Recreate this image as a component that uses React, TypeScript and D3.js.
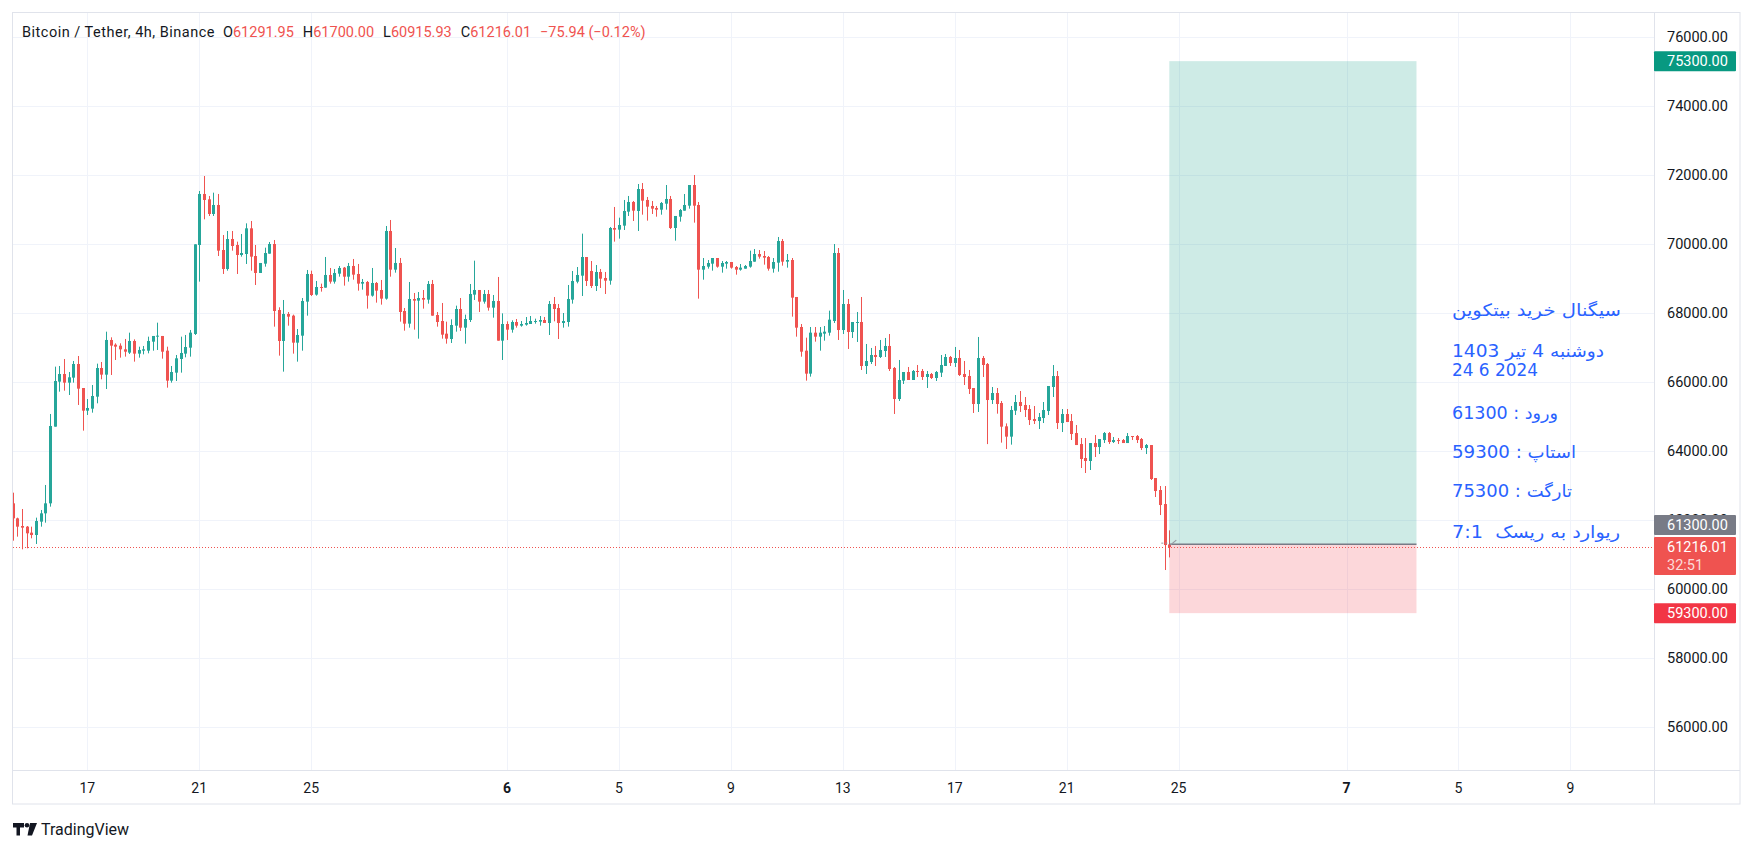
import React, { useEffect, useRef } from 'react';
import * as d3 from 'd3';

// 4h candles, first one opens 2024-05-14 08:00 UTC
const startTime = '2024-05-14T08:00:00Z';
const stepHours = 4;

const opens = [
  62483, 62048, 61826, 61807, 61633, 61565, 61952, 62193, 62483, 64706,
  66010, 66232, 65981, 66126, 66522, 65826, 65169, 65227, 65575, 66406,
  66213, 67218, 67082, 67053, 66947, 66851, 67189, 66822, 66908, 66908,
  67169, 67314, 67334, 66908, 66039, 66271, 66667, 66822, 66995, 67392,
  69971, 71450, 71295, 70870, 71131, 69826, 69276, 70145, 69971, 69681,
  69710, 70454, 69652, 69160, 69430, 69720, 70000, 68087, 67189, 67971,
  67923, 67140, 67343, 68329, 69131, 68532, 68754, 68735, 69102, 68909,
  69140, 69314, 69053, 69363, 69131, 68851, 68899, 68503, 68870, 68667,
  68416, 70377, 69256, 69450, 68058, 67691, 68406, 68358, 68435, 68387,
  68841, 67942, 67768, 67401, 67246, 67633, 68116, 67575, 67797, 68532,
  68667, 68329, 68551, 68155, 68348, 67198, 67681, 67517, 67739, 67633,
  67662, 67681, 67749, 67749, 67797, 67710, 68261, 68145, 67710, 67739,
  68387, 68908, 69082, 69623, 69218, 68783, 69189, 69015, 68937, 70464,
  70416, 70532, 70937, 71218, 70957, 71594, 71276, 71102, 71044, 70995,
  71169, 71305, 70464, 70792, 70966, 71111, 71710, 71131, 69256, 69343,
  69430, 69594, 69343, 69430, 69478, 69333, 69256, 69285, 69343, 69488,
  69710, 69652, 69623, 69285, 69459, 70087, 69488, 69536, 68464, 67594,
  66908, 66242, 67430, 67314, 67401, 67430, 67768, 69739, 67507, 68261,
  67449, 67710, 67739, 66464, 66580, 66783, 66725, 66899, 67044, 66406,
  65507, 66039, 66290, 66058, 66319, 66319, 66145, 66232, 66116, 66271,
  66464, 66725, 66551, 66696, 66232, 66174, 65826, 65362, 66696, 66522,
  65478, 65681, 65391, 64715, 64416, 65169, 65420, 65333, 65217, 64927,
  64869, 64956, 65159, 65855, 66173, 64811, 65072, 64869, 64521, 64202,
  63797, 63710, 64231, 64115, 64318, 64521, 64260, 64318, 64318, 64231,
  64434, 64434, 64347, 64086, 64173, 63217, 62869, 62463, 61291.95,
];

const highs = [
  62792, 62068, 62319, 61826, 61807, 62068, 62290, 63015, 65073, 66445,
  66464, 66667, 66290, 66609, 66754, 65826, 65507, 65913, 66532, 66580,
  67459, 67295, 67121, 67121, 67247, 67430, 67237, 67024, 67044, 67314,
  67334, 67720, 67334, 67024, 66464, 66783, 67314, 67363, 67508, 69991,
  71537, 71971, 71392, 71488, 71450, 70261, 70377, 70377, 70068, 70290,
  70599, 70667, 69971, 69450, 69894, 70058, 70116, 68165, 68377, 68029,
  67952, 67536, 68435, 69247, 69227, 68928, 68851, 69624, 69305, 69276,
  69363, 69334, 69450, 69566, 69421, 68986, 68928, 69305, 68899, 68957,
  70522, 70696, 69884, 69595, 68145, 68899, 68580, 68609, 68667, 68928,
  68957, 68029, 68290, 67749, 67817, 68213, 68435, 67952, 68841, 69517,
  68667, 68667, 68667, 68522, 69044, 67990, 67759, 67788, 67826, 67768,
  67884, 67913, 67836, 67913, 67884, 68348, 68464, 68261, 68000, 68812,
  69218, 69333, 70300, 69623, 69507, 69391, 69276, 69189, 70493, 71073,
  70763, 71276, 71392, 71247, 71739, 71768, 71363, 71247, 71102, 71218,
  71710, 71392, 70812, 71015, 71449, 71710, 72000, 71218, 69594, 69536,
  69594, 69594, 69507, 69507, 69478, 69362, 69420, 69391, 69807, 69855,
  69826, 69797, 69652, 69594, 70203, 70145, 69710, 69594, 68464, 67681,
  67285, 67594, 67594, 67594, 67623, 68068, 70000, 69884, 68667, 68406,
  67739, 68029, 68464, 67102, 66986, 67044, 67218, 67276, 67391, 66435,
  66638, 66290, 66435, 66348, 66493, 66377, 66319, 66261, 66319, 66783,
  66812, 66754, 67015, 66928, 66609, 66348, 65826, 67305, 66754, 66551,
  65855, 65826, 65449, 64800, 65305, 65623, 65739, 65565, 65333, 65304,
  65101, 65420, 65884, 66492, 66318, 65217, 65217, 65072, 64753, 64376,
  64376, 64231, 64463, 64347, 64550, 64550, 64405, 64376, 64347, 64521,
  64434, 64463, 64376, 64202, 64173, 63217, 62985, 62985, 61700,
];

const lows = [
  61401, 61517, 61150, 61179, 61469, 61305, 61807, 61923, 62387, 64706,
  65720, 65749, 65623, 65981, 65334, 64590, 65044, 65111, 65382, 66078,
  65797, 66203, 66638, 66706, 66735, 66812, 66590, 66706, 66802, 66831,
  66908, 66928, 66677, 65836, 65981, 66029, 66271, 66715, 66735, 67363,
  68909, 70715, 70812, 70812, 69652, 69131, 69227, 69807, 69131, 69633,
  69421, 69227, 68812, 69160, 69343, 69720, 67604, 66764, 66300, 67633,
  66822, 66590, 66908, 67923, 68493, 68503, 68619, 68735, 68851, 68851,
  69053, 68793, 68909, 68966, 68648, 68677, 68126, 68474, 68300, 68242,
  68387, 69053, 69169, 67749, 67488, 67575, 67517, 67256, 68126, 68271,
  67923, 67604, 67256, 67111, 67131, 67459, 67478, 67111, 67739, 68377,
  68029, 68271, 68068, 67865, 67198, 66638, 67218, 67430, 67575, 67604,
  67633, 67681, 67691, 67633, 67710, 67362, 67759, 67246, 67575, 67604,
  68271, 68860, 68493, 68783, 68725, 68638, 68725, 68551, 68821, 70068,
  70155, 70406, 70812, 70667, 70377, 70850, 70677, 70870, 70792, 70850,
  70995, 70435, 70097, 70648, 70966, 71024, 70619, 68416, 68966, 69285,
  69227, 69314, 69169, 69285, 69285, 69111, 69227, 69285, 69314, 69488,
  69575, 69401, 69227, 69169, 69198, 69372, 69314, 67894, 67314, 66734,
  66039, 66155, 67169, 66908, 67198, 67343, 67710, 67218, 67391, 66957,
  67276, 67160, 66348, 66232, 66522, 66464, 66696, 66725, 66319, 65073,
  65449, 65942, 66058, 66058, 66145, 66058, 65826, 66087, 66029, 66145,
  66464, 66464, 66435, 66174, 65913, 65652, 65102, 65131, 66145, 64200,
  65362, 65082, 64242, 64058, 64184, 65044, 65130, 64985, 64753, 64782,
  64637, 64811, 65043, 65565, 64637, 64550, 64840, 64318, 64173, 63507,
  63362, 63449, 63826, 63912, 64231, 64202, 64231, 64202, 64231, 64231,
  64318, 64231, 64028, 63912, 63159, 62666, 62144, 60550, 60915.93,
];

const closes = [
  62048, 61807, 61778, 61614, 61565, 61971, 62193, 62483, 64725, 66029,
  66232, 65981, 66136, 66522, 65807, 65169, 65247, 65594, 66406, 66213,
  67218, 67053, 67024, 66947, 66879, 67189, 66822, 66928, 66947, 67189,
  67334, 67343, 66879, 66039, 66290, 66686, 66841, 67015, 67430, 69991,
  71450, 71276, 70870, 71131, 69807, 69276, 70145, 69942, 69681, 69739,
  70454, 69633, 69160, 69450, 69739, 70000, 68058, 67189, 67971, 67894,
  67140, 67363, 68348, 69131, 68522, 68754, 68735, 69102, 68909, 69160,
  69305, 69053, 69363, 69111, 68851, 68899, 68503, 68870, 68648, 68416,
  70377, 69256, 69450, 68029, 67691, 68406, 68358, 68435, 68387, 68841,
  67923, 67739, 67372, 67256, 67652, 68116, 67575, 67826, 68551, 68667,
  68329, 68551, 68155, 68348, 67198, 67681, 67517, 67739, 67633, 67681,
  67710, 67768, 67768, 67797, 67710, 68261, 68116, 67710, 67768, 68406,
  68928, 69102, 69623, 68928, 68783, 69189, 68995, 68937, 70464, 70416,
  70551, 70957, 71218, 70966, 71594, 71256, 71082, 71024, 70995, 71189,
  71305, 70464, 70812, 70986, 71131, 71710, 71111, 69256, 69362, 69449,
  69594, 69343, 69449, 69478, 69314, 69256, 69314, 69362, 69507, 69710,
  69633, 69604, 69285, 69478, 70087, 69488, 69536, 68445, 67575, 66879,
  66242, 67430, 67314, 67430, 67459, 67807, 69739, 67507, 68261, 67449,
  67739, 67739, 66464, 66609, 66783, 66725, 66928, 67044, 66377, 65507,
  66058, 66290, 66058, 66319, 66290, 66145, 66232, 66116, 66290, 66493,
  66725, 66551, 66696, 66203, 66145, 65797, 65362, 66696, 66493, 65478,
  65681, 65362, 64705, 64416, 65189, 65420, 65304, 65188, 64898, 64869,
  64985, 65188, 65884, 66173, 64811, 65072, 64840, 64492, 64173, 63768,
  63710, 64231, 64115, 64347, 64521, 64260, 64318, 64289, 64231, 64434,
  64405, 64318, 64086, 64173, 63188, 62840, 62434, 61275, 61216.01,
];

const priceTicks = [56000, 58000, 60000, 62000, 64000, 66000, 68000, 70000, 72000, 74000, 76000];
const timeTicks = [
  '2024-05-17', '2024-05-21', '2024-05-25', '2024-06-01', '2024-06-05', '2024-06-09', '2024-06-13',
  '2024-06-17', '2024-06-21', '2024-06-25', '2024-07-01', '2024-07-05', '2024-07-09',
];
const timeTickLabels = ['17', '21', '25', '6', '5', '9', '13', '17', '21', '25', '7', '5', '9'];

// long position drawing
const entryPrice = 61300;
const stopPrice = 59300;
const targetPrice = 75300;
const positionEnd = '2024-07-03T12:00:00Z';
const lastPrice = 61216.01;
const countdown = '32:51';

const legendTitle = 'Bitcoin / Tether, 4h, Binance';
const legendKeys = ['O', 'H', 'L', 'C'];
const legendValues = ['61291.95', '61700.00', '60915.93', '61216.01'];
const legendChange = '−75.94 (−0.12%)';

const noteLines = [
  { text: 'سیگنال خرید بیتکوین', rtl: true, width: 169 },
  { text: 'دوشنبه 4 تیر 1403', rtl: true, width: 152 },
  { text: '24 6 2024', rtl: false, width: 86 },
  { text: 'ورود : 61300', rtl: true, width: 106 },
  { text: 'استاپ : 59300', rtl: true, width: 124 },
  { text: 'تارگت : 75300', rtl: true, width: 120 },
  { text: 'ریوارد به ریسک  7:1', rtl: true, width: 168 },
];
const noteY = [310, 351, 370, 413, 452, 491, 532];

const UP = '#26a69a';
const DOWN = '#ef5350';
const TEXT = '#131722';
const FONT = 'Roboto, "Noto Sans", sans-serif';

export default function App() {
  const ref = useRef<SVGSVGElement>(null);

  useEffect(() => {
    const svg = d3.select(ref.current);
    svg.selectAll('*').remove();

    const left = 13, top = 13, right = 1654, bottom = 770, frameRight = 1740, frameBottom = 804;

    const t0 = new Date(startTime).getTime();
    const step = stepHours * 3600 * 1000;
    const data = opens.map((o, i) => ({
      t: new Date(t0 + i * step), o, h: highs[i], l: lows[i], c: closes[i],
    }));

    const x = d3.scaleUtc()
      .domain([data[0].t, data[data.length - 1].t])
      .range([12.7, 1169.3]);
    const y = d3.scaleLinear().domain([56000, 76000]).range([727, 37]);
    const tx = (d: string) => x(new Date(d + 'T00:00:00Z'));

    svg.append('rect').attr('width', 1754).attr('height', 850).attr('fill', '#ffffff');

    svg.append('clipPath').attr('id', 'plot-clip')
      .append('rect').attr('x', left).attr('y', top).attr('width', right - left).attr('height', bottom - top);

    // grid
    const grid = svg.append('g').attr('stroke', '#f0f3fa').attr('stroke-width', 1);
    grid.selectAll('line.h').data(priceTicks).join('line')
      .attr('x1', left).attr('x2', right)
      .attr('y1', d => Math.round(y(d)) + 0.5).attr('y2', d => Math.round(y(d)) + 0.5);
    grid.selectAll('line.v').data(timeTicks).join('line')
      .attr('y1', top).attr('y2', bottom)
      .attr('x1', d => Math.round(tx(d)) + 0.5)
      .attr('x2', d => Math.round(tx(d)) + 0.5);

    const plot = svg.append('g').attr('clip-path', 'url(#plot-clip)');

    // candles
    const candles = plot.append('g');
    candles.selectAll('line').data(data).join('line')
      .attr('x1', d => Math.round(x(d.t)) + 0.5).attr('x2', d => Math.round(x(d.t)) + 0.5)
      .attr('y1', d => y(d.h)).attr('y2', d => y(d.l))
      .attr('stroke', d => (d.c >= d.o ? UP : DOWN)).attr('stroke-width', 1);
    candles.selectAll('rect').data(data).join('rect')
      .attr('x', d => Math.round(x(d.t)) - 1).attr('width', 3)
      .attr('y', d => y(Math.max(d.o, d.c)))
      .attr('height', d => Math.max(1, Math.abs(y(d.o) - y(d.c))))
      .attr('fill', d => (d.c >= d.o ? UP : DOWN));

    // position box
    const bx0 = x(data[data.length - 1].t);
    const bx1 = x(new Date(positionEnd));
    plot.append('rect').attr('x', bx0).attr('width', bx1 - bx0)
      .attr('y', y(targetPrice)).attr('height', y(entryPrice) - y(targetPrice))
      .attr('fill', 'rgb(8,153,129)').attr('fill-opacity', 0.2);
    plot.append('rect').attr('x', bx0).attr('width', bx1 - bx0)
      .attr('y', y(entryPrice)).attr('height', y(stopPrice) - y(entryPrice))
      .attr('fill', 'rgb(242,54,69)').attr('fill-opacity', 0.2);
    plot.append('line').attr('x1', bx0).attr('x2', bx1)
      .attr('y1', y(entryPrice)).attr('y2', y(entryPrice))
      .attr('stroke', '#787b86').attr('stroke-width', 1.5);
    plot.append('line').attr('x1', bx0 - 8).attr('x2', bx0 - 1)
      .attr('y1', y(entryPrice) - 1).attr('y2', y(entryPrice) - 1)
      .attr('stroke', '#9598a1').attr('stroke-dasharray', '2 2');
    plot.append('line').attr('x1', bx0 + 1).attr('x2', bx0 + 7)
      .attr('y1', y(entryPrice) + 1).attr('y2', y(entryPrice) - 4)
      .attr('stroke', '#9598a1').attr('stroke-width', 1.2);

    // last price dotted line
    plot.append('line').attr('x1', left).attr('x2', right)
      .attr('y1', Math.round(y(lastPrice)) + 0.5).attr('y2', Math.round(y(lastPrice)) + 0.5)
      .attr('stroke', DOWN).attr('stroke-dasharray', '1 2');

    // note text
    const note = svg.append('g').attr('font-family', '"DejaVu Sans", sans-serif')
      .attr('font-size', 17).attr('fill', '#2962ff');
    note.selectAll('text').data(noteLines).join('text')
      .attr('x', 1452).attr('y', (_, i) => noteY[i])
      .attr('dominant-baseline', 'central')
      .attr('direction', d => (d.rtl ? 'rtl' : 'ltr'))
      .attr('text-anchor', d => (d.rtl ? 'end' : 'start'))
      .attr('textLength', d => d.width)
      .attr('lengthAdjust', 'spacingAndGlyphs')
      .style('white-space', 'pre')
      .text(d => d.text);

    // frame
    svg.append('rect').attr('x', 12.5).attr('y', 12.5)
      .attr('width', frameRight - 12.5).attr('height', frameBottom - 12.5)
      .attr('fill', 'none').attr('stroke', '#e0e3eb');
    svg.append('line').attr('x1', right + 0.5).attr('x2', right + 0.5).attr('y1', 13).attr('y2', frameBottom)
      .attr('stroke', '#e0e3eb');
    svg.append('line').attr('x1', 13).attr('x2', frameRight).attr('y1', bottom + 0.5).attr('y2', bottom + 0.5)
      .attr('stroke', '#e0e3eb');

    // price axis labels
    const axis = svg.append('g').attr('font-family', FONT).attr('font-size', 14.5).attr('fill', TEXT);
    axis.selectAll('text').data(priceTicks).join('text')
      .attr('x', 1667).attr('y', d => y(d)).attr('dominant-baseline', 'central')
      .text(d => d3.format('.2f')(d));

    // time axis labels (month starts in bold)
    svg.append('g').attr('font-family', FONT).attr('font-size', 14).attr('fill', TEXT)
      .selectAll('text').data(timeTicks).join('text')
      .attr('x', d => tx(d)).attr('y', 788)
      .attr('text-anchor', 'middle').attr('dominant-baseline', 'central')
      .attr('font-weight', d => (d.endsWith('-01') ? 700 : 400))
      .text((_, i) => timeTickLabels[i]);

    // price tags
    const tags = [
      { label: d3.format('.2f')(targetPrice), cy: y(targetPrice), fill: '#089981' },
      { label: d3.format('.2f')(entryPrice), cy: y(lastPrice) - 22, fill: '#787b86' },
      { label: d3.format('.2f')(stopPrice), cy: y(stopPrice), fill: '#f23645' },
    ];
    const tagG = svg.append('g').attr('font-family', FONT).attr('font-size', 14.5);
    tags.forEach(t => {
      tagG.append('rect').attr('x', right).attr('y', t.cy - 10).attr('width', 82).attr('height', 20)
        .attr('rx', 1).attr('fill', t.fill);
      tagG.append('text').attr('x', 1667).attr('y', t.cy).attr('dominant-baseline', 'central')
        .attr('fill', '#ffffff').text(t.label);
    });
    const ly = y(lastPrice);
    tagG.append('rect').attr('x', right).attr('y', ly - 10).attr('width', 82).attr('height', 38)
      .attr('rx', 1).attr('fill', DOWN);
    tagG.append('text').attr('x', 1667).attr('y', ly).attr('dominant-baseline', 'central')
      .attr('fill', '#ffffff').text(d3.format('.2f')(lastPrice));
    tagG.append('text').attr('x', 1667).attr('y', ly + 18).attr('dominant-baseline', 'central')
      .attr('fill', '#ffffff').attr('fill-opacity', 0.8).text(countdown);

    // legend
    const legend = svg.append('text').attr('x', 22).attr('y', 32).attr('dominant-baseline', 'central')
      .attr('font-family', FONT).attr('font-size', 14.5).attr('fill', TEXT);
    legend.append('tspan').attr('letter-spacing', 0.5).text(legendTitle);
    legendKeys.forEach((k, i) => {
      legend.append('tspan').attr('dx', i === 0 ? 8 : 9).text(k);
      legend.append('tspan').attr('fill', DOWN).text(legendValues[i]);
    });
    legend.append('tspan').attr('dx', 9).attr('fill', DOWN).text(legendChange);

    // TradingView logo
    const logo = svg.append('g').attr('fill', TEXT);
    logo.append('path').attr('d', 'M13 823h11v4.5h-4v8h-3.5v-8H13z');
    logo.append('circle').attr('cx', 27).attr('cy', 825.3).attr('r', 2.3);
    logo.append('path').attr('d', 'M30 823h7l-5 12.5h-4.5z');
    svg.append('text').attr('x', 41).attr('y', 829.5).attr('dominant-baseline', 'central')
      .attr('font-family', FONT).attr('font-size', 16).attr('fill', TEXT).text('TradingView');
  }, []);

  return (
    <svg ref={ref} width={1754} height={850}
      style={{ position: 'absolute', left: 0, top: 0, display: 'block' }} />
  );
}
